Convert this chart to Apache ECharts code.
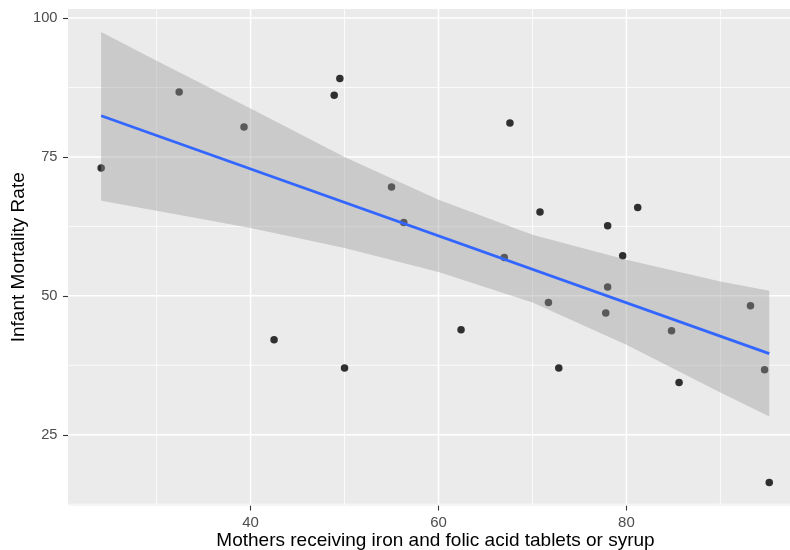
<!DOCTYPE html>
<html>
<head>
<meta charset="utf-8">
<script src="https://cdn.jsdelivr.net/npm/echarts@6/dist/echarts.min.js"></script>
<style>
  html, body { margin: 0; padding: 0; background: #ffffff; }
  #chart { width: 790px; height: 550px; }
</style>
</head>
<body>
<div id="chart"></div>
<script>
// Coverage of iron / folic acid supplementation vs. infant mortality
const coverage = [24.1, 32.4, 39.3, 48.9, 49.5, 55.0, 56.3, 67.6, 70.8, 67.0,
                  78.0, 81.2, 79.6, 42.5, 50.0, 62.4, 71.7, 72.8, 78.0, 77.8,
                  84.8, 85.6, 93.2, 94.7, 95.2];
const mortality = [73.0, 86.7, 80.4, 86.1, 89.1, 69.6, 63.2, 81.1, 65.1, 56.9,
                   62.6, 65.9, 57.2, 42.1, 37.0, 43.9, 48.8, 37.0, 51.6, 46.9,
                   43.7, 34.4, 48.2, 36.7, 16.4];

// Linear fit and its 95% confidence band
const fitX = [24.1, 95.2];
const fitY = [82.4, 39.6];
const bandX    = [24.1, 30.0, 40.0, 50.0, 60.0, 70.0, 80.0, 90.0, 95.2];
const bandLow  = [67.1, 65.3, 62.2, 58.6, 54.3, 48.8, 41.2, 32.6, 28.3];
const bandHigh = [97.5, 92.3, 83.7, 75.0, 67.3, 61.0, 56.5, 52.6, 50.9];

// Tick values
const xMajorTicks = [40, 60, 80];
const xMinorTicks = [30, 50, 70, 90];
const yMajorTicks = [25, 50, 75, 100];
const yMinorTicks = [12.5, 37.5, 62.5, 87.5];

const X_MIN = 20.57, X_MAX = 98.79;
const Y_MIN = 12.27, Y_MAX = 101.62;
const FONT = "'Liberation Sans', Arial, Helvetica, sans-serif";

// grid lines: [orientation (0 = vertical, 1 = horizontal), value, major flag]
const gridLines = [];
xMinorTicks.forEach(v => gridLines.push([0, v, 0]));
yMinorTicks.forEach(v => gridLines.push([1, v, 0]));
xMajorTicks.forEach(v => gridLines.push([0, v, 1]));
yMajorTicks.forEach(v => gridLines.push([1, v, 1]));

const chart = echarts.init(document.getElementById('chart'), null, { renderer: 'canvas' });

chart.setOption({
  animation: false,
  backgroundColor: '#ffffff',
  grid: {
    left: 68, top: 9, right: -13, bottom: 44.5,
    outerBoundsMode: 'none', containLabel: false,
    show: true, backgroundColor: '#EBEBEB', borderWidth: 0
  },
  xAxis: {
    type: 'value', min: X_MIN, max: X_MAX,
    name: 'Mothers receiving iron and folic acid tablets or syrup',
    nameLocation: 'middle', nameGap: 25.5, nameMoveOverlap: false,
    nameTextStyle: { color: '#000000', fontSize: 19, fontFamily: FONT },
    axisLine: { show: false },
    splitLine: { show: false },
    axisTick: { show: true, customValues: xMajorTicks, length: 5,
                lineStyle: { color: '#333333', width: 1.1 } },
    axisLabel: { customValues: xMajorTicks, color: '#4D4D4D', fontSize: 15,
                 fontFamily: FONT, margin: 9.5 }
  },
  yAxis: {
    type: 'value', min: Y_MIN, max: Y_MAX,
    name: 'Infant Mortality Rate',
    nameLocation: 'middle', nameGap: 40, nameRotate: 90, nameMoveOverlap: false,
    nameTextStyle: { color: '#000000', fontSize: 19, fontFamily: FONT },
    axisLine: { show: false },
    splitLine: { show: false },
    axisTick: { show: true, customValues: yMajorTicks, length: 5,
                lineStyle: { color: '#333333', width: 1.1 } },
    axisLabel: { customValues: yMajorTicks, color: '#4D4D4D', fontSize: 14.7,
                 fontFamily: FONT, margin: 10.5 }
  },
  series: [
    {
      // white panel grid
      type: 'custom', z: 1, silent: true,
      data: gridLines,
      renderItem(params, api) {
        const cs = params.coordSys;
        const dir = api.value(0), v = api.value(1), major = api.value(2);
        let shape;
        if (dir === 0) {
          const p = api.coord([v, Y_MIN]);
          shape = { x1: p[0], y1: cs.y, x2: p[0], y2: cs.y + cs.height };
        } else {
          const p = api.coord([X_MIN, v]);
          shape = { x1: cs.x, y1: p[1], x2: cs.x + cs.width, y2: p[1] };
        }
        return { type: 'line', shape,
                 style: { stroke: '#ffffff', lineWidth: major ? 1.5 : 0.8 } };
      }
    },
    {
      type: 'scatter', z: 2,
      symbol: 'circle', symbolSize: 7.5,
      itemStyle: { color: '#000000' },
      data: coverage.map((x, i) => [x, mortality[i]])
    },
    {
      // confidence band
      type: 'custom', z: 3, silent: true,
      data: [[bandX[0], bandLow[0]]],
      renderItem(params, api) {
        const pts = [];
        for (let i = 0; i < bandX.length; i++) pts.push(api.coord([bandX[i], bandHigh[i]]));
        for (let i = bandX.length - 1; i >= 0; i--) pts.push(api.coord([bandX[i], bandLow[i]]));
        return { type: 'polygon', shape: { points: pts },
                 style: { fill: 'rgba(153,153,153,0.4)' } };
      }
    },
    {
      type: 'line', z: 4,
      showSymbol: false, symbol: 'none',
      lineStyle: { color: '#3366FF', width: 2.8 },
      data: fitX.map((x, i) => [x, fitY[i]])
    }
  ]
});
</script>
</body>
</html>
